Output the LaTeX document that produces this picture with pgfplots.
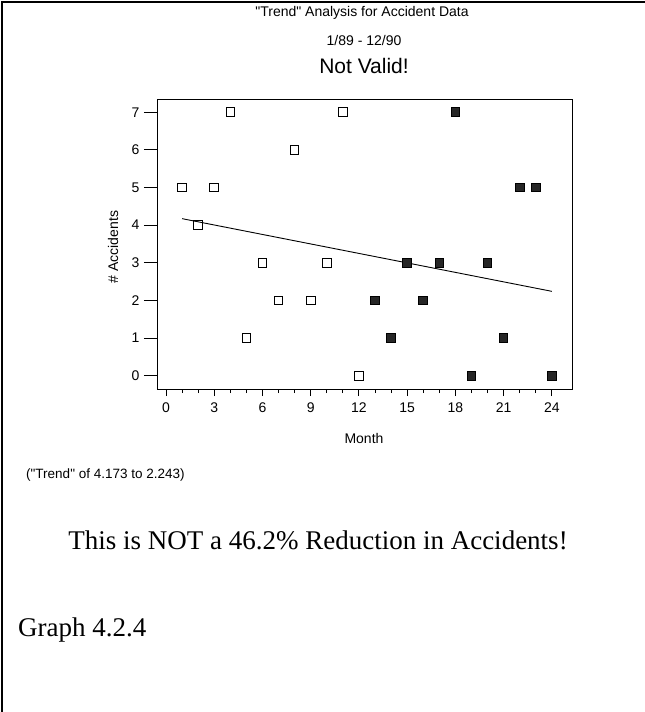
\documentclass[border=0pt]{standalone}
\usepackage{pgfplots}
\pgfplotsset{compat=1.18}
\usepackage{fontspec}
\setmainfont{Liberation Serif}
\newfontfamily\arial{Liberation Sans}
\newcommand{\fs}[1]{\fontsize{#1}{#1}\selectfont}
\begin{document}
\begin{tikzpicture}
\path[use as bounding box] (0pt,0pt) rectangle (645pt,-712pt);
\draw[line width=2.5pt] (2pt,-712pt) -- (2pt,-2pt) -- (645pt,-2pt);
% main axis with y ticks and data
\begin{axis}[
  at={(157pt,-389pt)}, anchor=south west,
  scale only axis, width=415pt, height=290pt,
  xmin=-0.56, xmax=25.25, ymin=-0.35, ymax=7.35,
  xtick=\empty,
  ytick={0,1,...,7},
  ytick pos=left,
  tick align=outside,
  major tick length=13pt,
  axis line style={line width=1pt},
  every tick/.style={black, line width=1pt},
  /pgf/number format/assume math mode=true,
  yticklabel style={font=\arial\fs{14}, xshift=-1pt},
  clip=false,
]
\addplot[only marks, mark=square, mark size=4.3pt,
  mark options={rounded corners=2.5pt, line width=1pt, black}]
  coordinates {(1,5) (2,4) (3,5) (4,7) (5,1) (6,3) (7,2) (8,6) (9,2) (10,3) (11,7) (12,0)};
\addplot[only marks, mark=square*, mark size=4.3pt,
  mark options={rounded corners=2.5pt, line width=1pt, draw=black, fill=black!85}]
  coordinates {(13,2) (14,1) (15,3) (16,2) (17,3) (18,7) (19,0) (20,3) (21,1) (22,5) (23,5) (24,0)};
\addplot[black, line width=0.9pt, no marks] coordinates {(1,4.173) (24,2.243)};
\end{axis}
% x axis with ticks
\begin{axis}[
  at={(157pt,-389pt)}, anchor=south west,
  scale only axis, width=415pt, height=290pt,
  xmin=-0.56, xmax=25.25, ymin=-0.35, ymax=7.35,
  axis x line*=bottom, hide y axis,
  xtick={0,3,...,24},
  minor xtick={1,2,4,5,7,8,10,11,13,14,16,17,19,20,22,23},
  tick align=outside,
  major tick length=7pt, minor tick length=4pt,
  axis line style={line width=1pt, -},
  every tick/.style={black, line width=1pt},
  /pgf/number format/assume math mode=true,
  xticklabel style={font=\arial\fs{14}, yshift=-3pt},
]
\end{axis}
\node[font=\arial\fs{14}] at (362pt,-13pt) {"Trend" Analysis for Accident Data};
\node[font=\arial\fs{14}] at (364pt,-40pt) {1/89 - 12/90};
\node[font=\arial\fs{21}] at (364pt,-66pt) {Not Valid!};
\node[font=\arial\fs{14}, rotate=90] at (113pt,-247pt) {\# Accidents};
\node[font=\arial\fs{14}] at (364pt,-438pt) {Month};
\node[font=\arial\fs{13.5}, anchor=west, inner sep=0pt] at (26pt,-475pt) {("Trend" of 4.173 to 2.243)};
\node[font=\fs{27}] at (318pt,-540pt) {This is NOT a 46.2\% Reduction in Accidents!};
\node[font=\fs{27}, anchor=west, inner sep=0pt] at (18pt,-630pt) {Graph 4.2.4};
\end{tikzpicture}
\end{document}
